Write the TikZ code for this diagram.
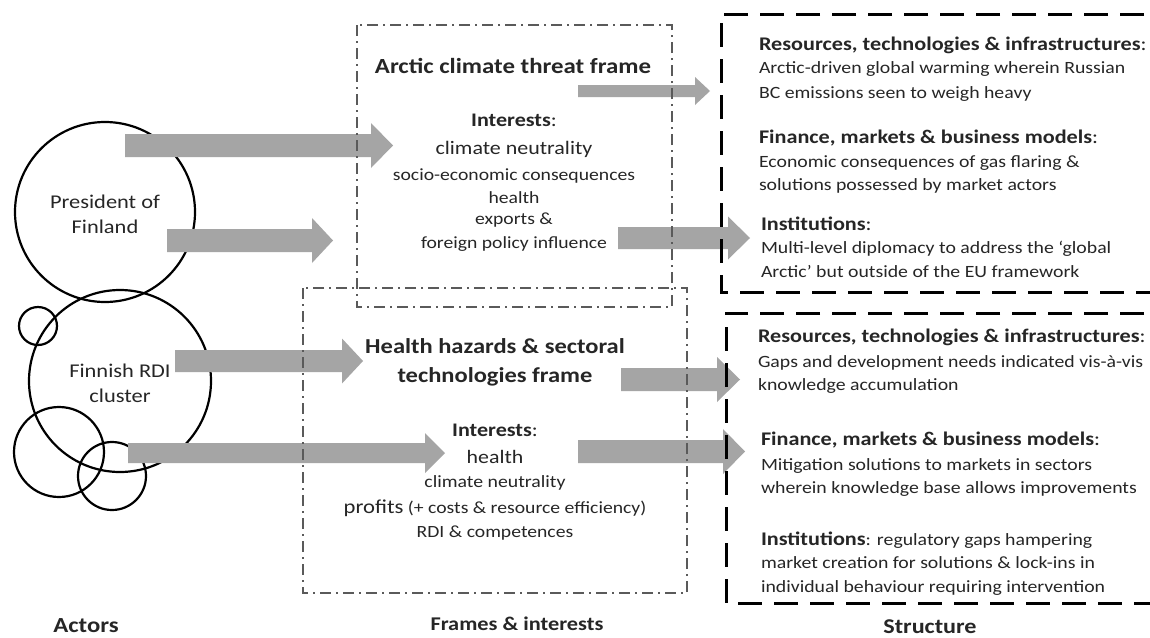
\documentclass[tikz,border=0pt]{standalone}
\usepackage{fontspec}
\setmainfont{Carlito}[FakeStretch=1.15]
\definecolor{arrowgray}{HTML}{A5A5A5}
\definecolor{framegray}{HTML}{5A5A5A}
\definecolor{txt}{HTML}{262626}
\newcommand{\fsz}[1]{\fontsize{#1}{#1}\selectfont}
\newcommand{\fatarrow}[6]{% x1, xtip, xheadbase, ymid, bodyhalf, headhalf
  \fill[arrowfill] (#1,{#4-#5}) -- (#3,{#4-#5}) -- (#3,{#4-#6}) -- (#2,#4) -- (#3,{#4+#6}) -- (#3,{#4+#5}) -- (#1,{#4+#5}) -- cycle;}
\begin{document}
\begin{tikzpicture}[x=1pt,y=-1pt,
  every node/.style={inner sep=0pt,outer sep=0pt,text=txt},
  arrowfill/.style={fill=arrowgray},
  framebox/.style={draw=framegray,line width=1.7pt,dash pattern=on 11pt off 5pt on 2pt off 5pt},
  structbox/.style={draw=black,line width=3pt,dash pattern=on 24pt off 12pt},
  actor/.style={circle,draw=black,line width=2.2pt},
  actortext/.style={align=center,font={\fontsize{19.5}{25}\selectfont}},
  ctr/.style={anchor=base},
  shead/.style={anchor=base west,font={\fsz{19.3}\bfseries}},
  sbody/.style={anchor=base west,font={\fsz{17.2}}}]
\clip (0,0) rectangle (1150,637);
\fill[white] (0,0) rectangle (1150,637);
% actors
\node[actor,minimum size=180pt] (pres) at (105,212) {};
\node[actortext] (prestext) at (105,214) {President of\\Finland};
\node[actor,minimum size=182pt] (rdi) at (120,381) {};
\node[actortext] (rditext) at (120,383) {Finnish RDI\\cluster};
\node[actor,minimum size=38pt] (c1) at (38,326) {};
\node[actor,minimum size=90pt] (c2) at (59,452) {};
\node[actor,minimum size=68pt] (c3) at (112,476) {};
% arrows
\fatarrow{125}{393}{371}{145.5}{11.5}{22.5}
\fatarrow{167}{333}{312}{240.5}{11.5}{22.5}
\fatarrow{578}{710}{695}{91}{6}{14}
\fatarrow{618}{750}{728}{238}{11}{21.5}
\fatarrow{175}{363}{342}{361}{11}{22.5}
\fatarrow{128}{445}{425}{453}{10}{20}
\fatarrow{621}{740}{717}{379.5}{11.5}{22.5}
\fatarrow{578}{745}{723}{451.5}{11.5}{22.5}
% frame boxes
\draw[framebox] (357,25) rectangle (672,307);
\draw[framebox] (303,288) rectangle (687,593);
% structure boxes
\draw[structbox] (1180,14) -- (721,14) -- (721,292) -- (1180,292);
\draw[structbox] (1180,313) -- (726,313) -- (726,603) -- (1180,603);
% top frame text
\node[ctr,font={\fsz{21.6}\bfseries}] (f1) at (513,73) {Arctic climate threat frame};
\node[ctr,font={\fsz{19.2}}] (i1) at (514,126) {\textbf{Interests}:};
\node[ctr,font={\fsz{19.1}}] (i1a) at (514,154) {climate neutrality};
\node[ctr,font={\fsz{17.1}}] (i1b) at (514,180) {socio-economic consequences};
\node[ctr,font={\fsz{17.1}}] (i1c) at (514,203) {health};
\node[ctr,font={\fsz{17.1}}] (i1d) at (514,224) {exports \&};
\node[ctr,font={\fsz{17.1}}] (i1e) at (514,248) {foreign policy influence};
% bottom frame text
\node[ctr,font={\fsz{21.3}\bfseries}] (f2a) at (495,353) {Health hazards \& sectoral};
\node[ctr,font={\fsz{21.3}\bfseries}] (f2b) at (495,382) {technologies frame};
\node[ctr,font={\fsz{19.2}}] (i2) at (495,436) {\textbf{Interests}:};
\node[ctr,font={\fsz{19}}] (i2a) at (495,463) {health};
\node[ctr,font={\fsz{17.2}}] (i2b) at (495,487) {climate neutrality};
\node[ctr,font={\fsz{17.1}}] (i2c) at (495,513) {{\fsz{19.7}profits} (+ costs \& resource efficiency)};
\node[ctr,font={\fsz{17.1}}] (i2d) at (495,537) {RDI \& competences};
% top structure text
\node[shead] (s1h) at (759,50) {Resources, technologies \& infrastructures\mdseries:};
\node[sbody] (s1a) at (759,73) {Arctic-driven global warming wherein Russian};
\node[sbody] (s1b) at (759,98) {BC emissions seen to weigh heavy};
\node[shead] (s2h) at (759,143) {Finance, markets \& business models\mdseries:};
\node[sbody] (s2a) at (759,167) {Economic consequences of gas flaring \&};
\node[sbody] (s2b) at (759,190) {solutions possessed by market actors};
\node[shead] (s3h) at (761,230) {Institutions\mdseries:};
\node[sbody] (s3a) at (761,253) {Multi-level diplomacy to address the ‘global};
\node[sbody] (s3b) at (761,277) {Arctic’ but outside of the EU framework};
% bottom structure text
\node[shead] (t1h) at (758,342) {Resources, technologies \& infrastructures\mdseries:};
\node[sbody] (t1a) at (758,367) {Gaps and development needs indicated vis-à-vis};
\node[sbody] (t1b) at (758,390) {knowledge accumulation};
\node[shead] (t2h) at (761,445) {Finance, markets \& business models\mdseries:};
\node[sbody] (t2a) at (761,470) {Mitigation solutions to markets in sectors};
\node[sbody] (t2b) at (761,493) {wherein knowledge base allows improvements};
\node[sbody] (t3h) at (761,545) {{\fsz{19.3}\bfseries Institutions}: regulatory gaps hampering};
\node[sbody] (t3a) at (761,568) {market creation for solutions \& lock-ins in};
\node[sbody] (t3b) at (761,592) {individual behaviour requiring intervention};
% column labels
\node[ctr,font={\fsz{21.5}\bfseries}] (lab1) at (86,632) {Actors};
\node[ctr,font={\fsz{19.4}\bfseries}] (lab2) at (517,630) {Frames \& interests};
\node[ctr,font={\fsz{21}\bfseries}] (lab3) at (930,633) {Structure};
\end{tikzpicture}
\end{document}
